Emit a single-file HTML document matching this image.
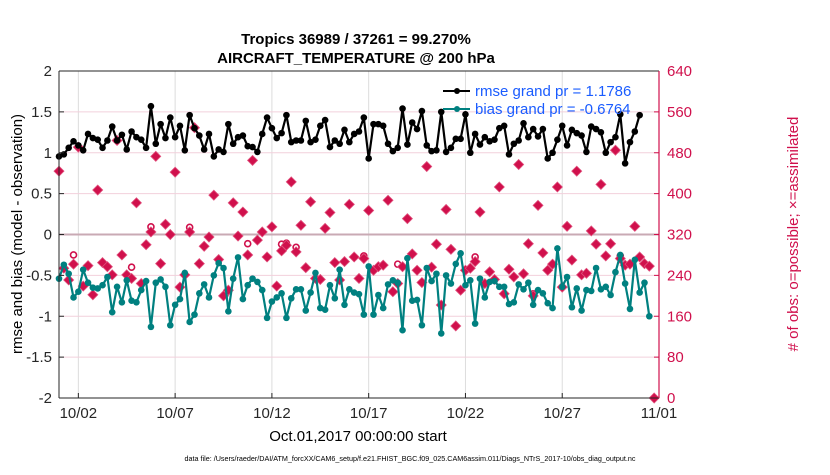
<!DOCTYPE html>
<html><head><meta charset="utf-8">
<style>
html,body{margin:0;padding:0;background:#fff;}
svg text{font-family:"Liberation Sans",Arial,sans-serif;}
</style></head>
<body>
<svg id="chart" width="830" height="470" viewBox="0 0 830 470" xmlns="http://www.w3.org/2000/svg">
<rect x="0" y="0" width="830" height="470" fill="#fff"/>
<g id="grid"></g>
<g id="series"></g>
<g id="axes"></g>
<text x="356" y="44" text-anchor="middle" font-size="15" font-weight="bold">Tropics 36989 / 37261 = 99.270%</text>
<text x="356" y="63" text-anchor="middle" font-size="15" font-weight="bold">AIRCRAFT_TEMPERATURE @ 200 hPa</text>
<text x="358" y="441" text-anchor="middle" font-size="15">Oct.01,2017 00:00:00 start</text>
<text transform="translate(22,234) rotate(-90)" text-anchor="middle" font-size="15">rmse and bias (model - observation)</text>
<text transform="translate(798,234) rotate(-90)" text-anchor="middle" font-size="15" fill="#d0104c"># of obs: o=possible; ×=assimilated</text>
<text x="410" y="461" text-anchor="middle" font-size="7.2">data file: /Users/raeder/DAI/ATM_forcXX/CAM6_setup/f.e21.FHIST_BGC.f09_025.CAM6assim.011/Diags_NTrS_2017-10/obs_diag_output.nc</text>
<g>
  <line x1="443" y1="91" x2="470" y2="91" stroke="#000" stroke-width="2"/>
  <circle cx="457" cy="91" r="3" fill="#000"/>
  <text x="475" y="96" font-size="15" fill="#1a5cff">rmse grand pr = 1.1786</text>
  <line x1="443" y1="109" x2="470" y2="109" stroke="#008080" stroke-width="2"/>
  <circle cx="457" cy="109" r="3" fill="#008080"/>
  <text x="475" y="114" font-size="15" fill="#1a5cff">bias grand pr = -0.6764</text>
</g>
</svg>
<script>
const rmse = [0.955,0.98,1.06,1.14,1.09,1.03,1.23,1.18,1.16,1.06,1.15,1.32,1.15,1.22,1.04,1.26,1.19,1.16,1.06,1.57,1.11,1.35,1.18,1.43,1.19,1.33,1.03,1.46,1.30,1.21,1.04,1.23,0.955,1.04,1.01,1.35,1.11,1.19,1.21,1.08,1.07,1.01,
1.23,1.43,1.30,1.18,1.24,1.46,1.13,1.15,1.15,1.39,1.13,1.16,1.33,1.40,1.07,1.15,1.11,1.28,1.13,1.23,1.26,1.43,0.93,1.35,1.35,1.33,1.11,1.02,1.06,1.54,1.10,1.37,1.29,1.51,1.09,1.02,1.03,1.50,1.01,1.06,
1.17,1.17,1.47,1.00,1.23,1.10,1.19,1.14,1.16,1.30,1.33,0.98,1.11,1.15,1.36,1.19,1.29,1.20,1.29,0.93,1.00,1.16,1.33,1.09,1.28,1.24,1.21,1.01,1.32,1.29,1.25,1.00,1.13,1.19,1.47,0.87,1.13,1.26,1.46];
const bias = [-0.54,-0.37,-0.48,-0.77,-0.70,-0.43,-0.59,-0.65,-0.66,-0.62,-0.52,-0.95,-0.64,-0.83,-0.56,-0.81,-0.83,-0.68,-0.57,-1.13,-0.59,-0.55,-0.64,-1.11,-0.86,-0.79,-0.47,-1.07,-0.98,-0.72,-0.61,-0.77,-0.50,-0.35,-0.41,-0.94,-0.54,-0.28,-0.79,-0.62,-0.54,-0.58,
-0.68,-1.02,-0.82,-0.77,-0.72,-1.02,-0.78,-0.67,-0.67,-0.93,-0.71,-0.47,-0.90,-0.92,-0.62,-0.78,-0.43,-0.86,-0.67,-0.71,-0.73,-0.98,-0.39,-0.98,-0.74,-0.90,-0.61,-0.56,-0.59,-1.17,-0.29,-0.81,-0.80,-1.11,-0.41,-0.57,-0.48,-1.21,-0.50,-0.60,-0.36,-0.23,
-0.62,-0.56,-1.09,-0.54,-0.77,-0.58,-0.57,-0.64,-0.64,-0.85,-0.83,-0.61,-0.67,-0.59,-0.86,-0.68,-0.72,-0.84,-0.90,-0.17,-0.64,-0.52,-0.89,-0.66,-0.93,-0.68,-0.69,-0.41,-0.67,-0.64,-0.74,-0.46,-0.25,-0.60,-0.91,-0.31,-0.71,-0.59,-1.00];
const assimilated = [444,254,231,262,491,219,259,202,407,265,257,241,504,280,241,234,382,224,300,325,473,263,340,320,442,217,241,325,529,263,297,315,397,271,200,211,382,317,364,280,465,309,
325,276,335,219,288,299,423,286,338,255,384,234,232,332,363,265,231,267,379,276,234,273,367,250,257,260,387,208,224,257,351,282,250,226,453,256,301,182,369,291,141,211,
250,254,267,364,224,247,232,413,204,252,237,457,243,302,200,377,284,250,262,413,217,336,270,444,241,244,327,301,418,278,302,485,273,260,262,336,276,263,258,0];
const possible = [444,254,231,280,491,219,259,202,407,265,257,241,504,280,241,256,382,224,300,335,473,263,340,320,442,217,241,334,529,263,297,315,397,271,200,211,382,317,364,302,465,309,
325,276,335,219,301,303,423,295,338,255,384,234,232,332,363,265,231,267,379,276,234,278,367,250,257,260,387,208,262,257,351,282,250,226,453,256,301,182,369,291,141,211,
250,254,276,364,224,247,232,413,204,252,237,457,243,302,204,377,284,250,262,413,217,336,270,444,241,244,327,301,418,278,302,485,278,260,262,336,276,263,258,0];
const xTickLabels = ["10/02","10/07","10/12","10/17","10/22","10/27","11/01"];
const xTickDays = [1,6,11,16,21,26,31];
const yTickLabels = ["2","1.5","1","0.5","0","-0.5","-1","-1.5","-2"];
const yTickValues = [2,1.5,1,0.5,0,-0.5,-1,-1.5,-2];
const rTickValues = [640,560,480,400,320,240,160,80,0];

const NS="http://www.w3.org/2000/svg";
const L=59,R=659,T=71,B=398;
const xs=t=>L+t*(R-L)/31;
const ys=v=>T+(2-v)*(B-T)/4;
const yr=c=>T+(640-c)*(B-T)/640;
const tOf=i=>i*0.25;
function mk(tag,attrs,parent){const e=document.createElementNS(NS,tag);for(const k in attrs)e.setAttribute(k,attrs[k]);parent.appendChild(e);return e;}
const grid=document.getElementById('grid'),series=document.getElementById('series'),axes=document.getElementById('axes');

xTickDays.forEach((d,i)=>{
  const x=xs(d);
  const g=mk('line',{x1:x,y1:T,x2:x,y2:B,stroke:'#dcdcdc','stroke-width':1},grid);
  
  
  const tk=mk('line',{x1:x,y1:B,x2:x,y2:B-5,stroke:'#262626','stroke-width':1},axes);
  
  
  const tx=mk('text',{x:x,y:B+20,'text-anchor':'middle','font-size':15,fill:'#262626'},axes);
  tx.textContent=xTickLabels[i];
  
  
});
yTickValues.forEach((v,i)=>{
  const y=ys(v);
  if(v!==2&&v!==-2&&v!==0){
    const g=mk('line',{x1:L,y1:y,x2:R,y2:y,stroke:'#f2d0dc','stroke-width':1},grid);
    
    
  }
  const tk=mk('line',{x1:L,y1:y,x2:L+5,y2:y,stroke:'#262626','stroke-width':1},axes);
  
  
  const tx=mk('text',{x:L-7,y:y+5,'text-anchor':'end','font-size':15,fill:'#262626'},axes);
  tx.textContent=yTickLabels[i];
  
  
});
rTickValues.forEach(c=>{
  const y=yr(c);
  const tk=mk('line',{x1:R-5,y1:y,x2:R,y2:y,stroke:'#d0104c','stroke-width':1},axes);
  
  
  const tx=mk('text',{x:R+8,y:y+5,'font-size':15,fill:'#d0104c'},axes);
  tx.textContent=String(c);
  
  
});
const zl=mk('line',{x1:L,y1:ys(0),x2:R,y2:ys(0),stroke:'#c9aab4','stroke-width':2},grid);



const la=mk('line',{x1:L,y1:T,x2:L,y2:B,stroke:'#262626','stroke-width':1},axes);


const ba=mk('line',{x1:L,y1:B,x2:R,y2:B,stroke:'#262626','stroke-width':1},axes);


const ta=mk('line',{x1:L,y1:T,x2:R,y2:T,stroke:'#262626','stroke-width':1},axes);


const ra=mk('line',{x1:R,y1:T,x2:R,y2:B,stroke:'#d0104c','stroke-width':1.2},axes);



possible.forEach((c,i)=>{
  if(c!==assimilated[i]){
    const o=mk('circle',{cx:xs(tOf(i)),cy:yr(c),r:3,fill:'none',stroke:'#d0104c','stroke-width':1.6},series);
    
    
  }
});
assimilated.forEach((c,i)=>{
  const x=xs(tOf(i)),y=yr(c);
  const p=mk('path',{d:`M${x} ${y-5}L${x+5} ${y}L${x} ${y+5}L${x-5} ${y}Z`,fill:'#d0104c',stroke:'#e0507c','stroke-width':0.8},series);
  
  
});

function drawLine(arr,color,name){
  const pts=arr.map((v,i)=>`${xs(tOf(i)).toFixed(1)},${ys(v).toFixed(1)}`).join(' ');
  const pl=mk('polyline',{points:pts,fill:'none',stroke:color,'stroke-width':2.2,'stroke-linejoin':'round'},series);
  
  
  arr.forEach((v,i)=>{
    const c=mk('circle',{cx:xs(tOf(i)),cy:ys(v),r:3.3,fill:color},series);
    
    
  });
}
drawLine(bias,'#008080','bias');
drawLine(rmse,'#000000','rmse');
</script>
</body></html>
